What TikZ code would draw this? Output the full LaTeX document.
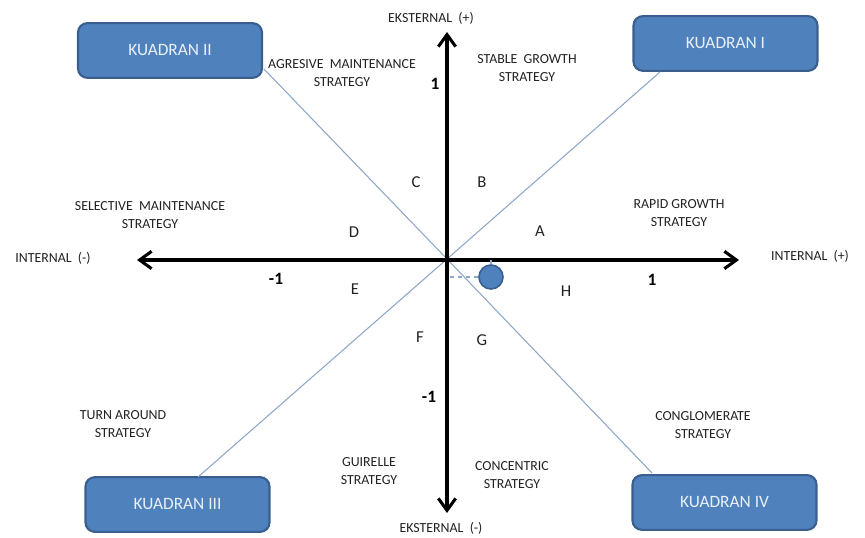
\documentclass[tikz,border=0pt]{standalone}
\usepackage{fontspec}
\setmainfont{Carlito}
\usetikzlibrary{arrows.meta}
\definecolor{boxfill}{HTML}{4F81BD}
\definecolor{boxline}{HTML}{3A5F8E}
\definecolor{diag}{HTML}{8DA7C8}
\definecolor{boxtext}{HTML}{EAF0F8}
\definecolor{lbl}{HTML}{222222}
\tikzset{
  quad/.style={draw=boxline, line width=1.6pt, fill=boxfill, rounded corners=7pt, minimum width=138pt, minimum height=41pt, text=boxtext, font=\fontsize{13}{15}\selectfont, inner sep=0pt},
  axis/.style={line width=2.3pt, -{Straight Barb[length=9pt, width=13pt, line width=2.3pt]}},
  diagline/.style={draw=diag, line width=0.8pt},
  small/.style={font=\fontsize{10.4}{13.5}\selectfont, text=lbl, align=center, inner sep=0pt},
  letter/.style={font=\fontsize{12.5}{14}\selectfont, text=lbl, inner sep=0pt},
  num/.style={font=\bfseries\fontsize{13}{15}\selectfont, inner sep=0pt},
}
\begin{document}
\begin{tikzpicture}[x=0.75pt, y=-0.75pt]
\useasboundingbox (0,0) rectangle (865,538);
% boxes
\node[quad] (q2) at (170,50.5) {KUADRAN II};
\node[quad] (q1) at (725.5,43.5) {KUADRAN I};
\node[quad] (q3) at (177.5,504.5) {KUADRAN III};
\node[quad] (q4) at (724.5,502.5) {KUADRAN IV};
\coordinate (o) at (447,259);
\coordinate (q2e) at (264,69);
\coordinate (q1e) at (660,72);
\coordinate (q3e) at (198,477);
\coordinate (q4e) at (652,473);
% diagonal lines
\draw[diagline] (q2e) -- (o) -- (q4e);
\draw[diagline] (q1e) -- (o) -- (q3e);
% axes
\coordinate (xl) at (137,260);
\coordinate (xr) at (739,260);
\coordinate (yt) at (447,32);
\coordinate (yb) at (447,513);
\coordinate (c) at (447,260);
\draw[axis] (c) -- (xl);
\draw[axis] (c) -- (xr);
\draw[axis] (c) -- (yt);
\draw[axis] (c) -- (yb);
% dot
\node[circle, draw=boxline, line width=1.2pt, fill=boxfill, minimum size=18pt, inner sep=0pt] (dot) at (491,277) {};
\coordinate (dl) at (447,277);
\coordinate (du) at (491,260);
\draw[diag, dashed, line width=0.8pt] (dot) -- (dl);
\draw[diag, dashed, line width=0.8pt] (dot) -- (du);
% axis labels
\node[small] (ekp) at (431,18) {EKSTERNAL\ \ (+)};
\node[small] (ekm) at (441,528) {EKSTERNAL\ \ (-)};
\node[small] (inm) at (53,258) {INTERNAL\ \ (-)};
\node[small] (inp) at (810,256) {INTERNAL\ \ (+)};
% strategy labels
\node[small] (agr) at (342,73) {AGRESIVE\ \ MAINTENANCE\\STRATEGY};
\node[small] (stb) at (527,68) {STABLE\ \ GROWTH\\STRATEGY};
\node[small] (sel) at (150,215) {SELECTIVE\ \ MAINTENANCE\\STRATEGY};
\node[small] (rap) at (679,213) {RAPID GROWTH\\STRATEGY};
\node[small] (trn) at (123,424) {TURN AROUND\\STRATEGY};
\node[small] (cng) at (703,425) {CONGLOMERATE\\STRATEGY};
\node[small] (gui) at (369,471) {GUIRELLE\\STRATEGY};
\node[small] (cnc) at (512,475) {CONCENTRIC\\STRATEGY};
% letters
\node[letter] (lA) at (540,231) {A};
\node[letter] (lB) at (482,182) {B};
\node[letter] (lC) at (416,182) {C};
\node[letter] (lD) at (354,232) {D};
\node[letter] (lE) at (355,289) {E};
\node[letter] (lF) at (420,337) {F};
\node[letter] (lG) at (482,340) {G};
\node[letter] (lH) at (566,291) {H};
% numbers
\node[num] (n1t) at (435,84) {1};
\node[num] (n1r) at (652,280) {1};
\node[num] (n1l) at (276,279) {-1};
\node[num] (n1b) at (429,397) {-1};
\end{tikzpicture}
\end{document}
